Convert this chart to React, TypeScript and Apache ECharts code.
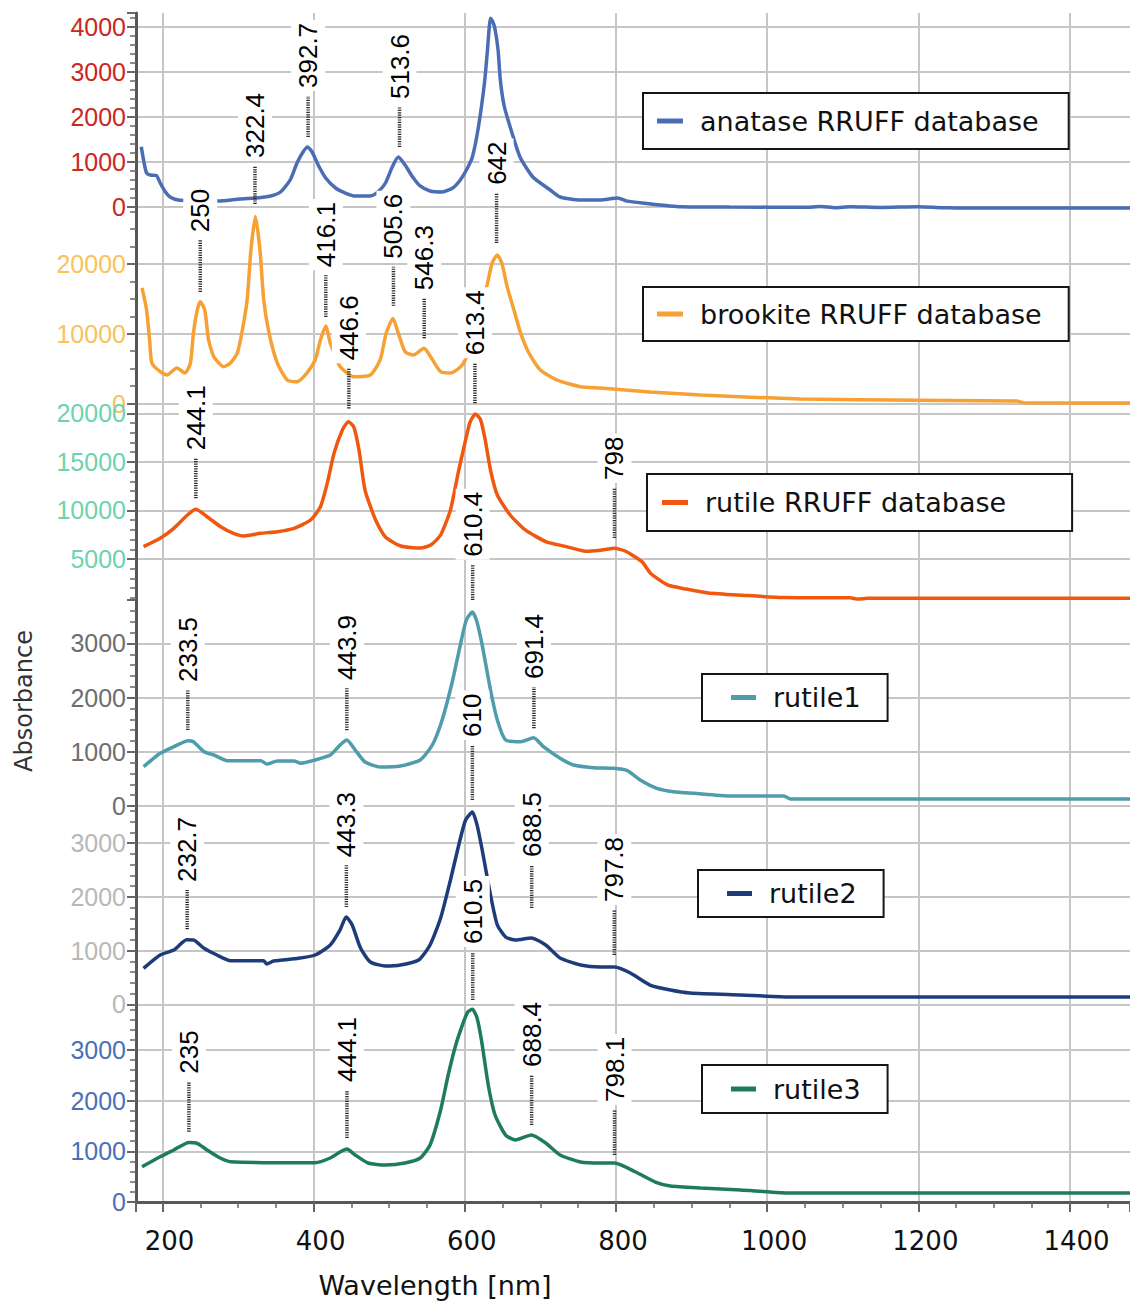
import React, { useEffect, useRef } from 'react';
import * as echarts from 'echarts';

// ---------- data ----------
const X_MIN = 165;
const X_MAX = 1480;
const xTickLabels = [200, 400, 600, 800, 1000, 1200, 1400];

const seriesNames = [
  'anatase RRUFF database',
  'brookite RRUFF database',
  'rutile RRUFF database',
  'rutile1',
  'rutile2',
  'rutile3',
];

const anatase: number[][] = [
  [172, 1340], [175, 1044], [179, 755], [184, 711], [192, 700], [197, 533], [204, 333], [210, 222],
  [221, 155], [240, 140], [260, 133], [280, 140], [303, 180], [324, 200], [343, 244], [356, 333],
  [369, 600], [378, 978], [386, 1222], [392, 1333], [398, 1222], [406, 933], [416, 644], [429, 422],
  [442, 311], [455, 244], [475, 244], [486, 350], [495, 533], [504, 889], [512, 1111], [521, 933],
  [531, 667], [541, 467], [554, 355], [570, 333], [584, 422], [594, 600], [603, 850], [610, 1111],
  [618, 1778], [626, 2756], [630, 3489], [634, 4193], [637, 4120], [640, 3950], [644, 3489],
  [647, 2822], [652, 2250], [660, 1778], [673, 1111], [690, 667], [713, 378], [726, 222], [753, 155],
  [779, 155], [802, 200], [815, 130], [835, 89], [886, 7], [950, 0], [1050, -5], [1071, 10],
  [1090, -15], [1110, 5], [1150, -10], [1200, 5], [1230, -15], [1250, -20], [1300, -20], [1400, -20],
  [1480, -20],
];

const brookite: number[][] = [
  [173, 16560], [179, 13400], [183, 9100], [186, 5800], [197, 4560], [206, 4090], [219, 5090],
  [230, 4370], [237, 5800], [241, 10100], [246, 13400], [250, 14600], [256, 13400], [261, 9100],
  [268, 6700], [281, 5280], [290, 5800], [299, 7240], [305, 10100], [312, 14840], [317, 22000],
  [323, 26800], [329, 22000], [334, 14840], [341, 10100], [352, 5800], [365, 3370], [378, 3130],
  [391, 4370], [402, 6240], [409, 9100], [416, 11110], [422, 8670], [428, 7000], [435, 5280],
  [453, 3840], [475, 4090], [488, 6240], [496, 10100], [505, 12200], [512, 10100], [521, 7430],
  [532, 6950], [546, 7910], [556, 6480], [568, 4560], [581, 4370], [592, 5040], [598, 5760],
  [606, 7500], [614, 10500], [622, 14000], [630, 17230], [636, 20100], [643, 21290], [649, 20100],
  [656, 16750], [665, 13400], [674, 10060], [685, 7200], [700, 4800], [722, 3370], [753, 2410],
  [779, 2220], [845, 1650], [912, 1220], [1044, 645], [1200, 450], [1330, 360], [1340, 100],
  [1480, 70],
];

const rutileRef: number[][] = [
  [175, 6270], [197, 7130], [215, 8160], [233, 9530], [244, 10120], [259, 9355], [277, 8325],
  [294, 7645], [308, 7370], [330, 7645], [352, 7810], [374, 8160], [396, 9015], [409, 10385],
  [418, 12790], [427, 15880], [438, 18280], [446, 19140], [453, 18620], [460, 16220], [468, 12100],
  [482, 9015], [495, 7265], [515, 6340], [541, 6130], [555, 6440], [568, 7470], [581, 10045],
  [592, 14160], [601, 17250], [607, 19100], [614, 19930], [621, 19310], [627, 17250], [634, 14160],
  [643, 11590], [660, 9530], [680, 7990], [707, 6800], [733, 6300], [760, 5800], [779, 5900],
  [798, 6100], [812, 5820], [834, 4750], [846, 3500], [869, 2300], [893, 1910], [922, 1510],
  [967, 1270], [1021, 1030], [1110, 1000], [1120, 880], [1133, 950], [1480, 950],
];

const rutile1: number[][] = [
  [175, 725], [197, 972], [215, 1094], [234, 1205], [241, 1186], [255, 1002], [268, 941], [286, 836],
  [330, 836], [338, 775], [352, 830], [374, 830], [383, 788], [402, 849], [422, 941], [435, 1125],
  [444, 1218], [455, 1033], [468, 812], [488, 720], [515, 738], [541, 849], [557, 1125], [570, 1587],
  [584, 2325], [594, 2970], [602, 3432], [610, 3579], [616, 3400], [623, 2970], [634, 2140],
  [643, 1587], [654, 1218], [674, 1186], [691, 1260], [704, 1094], [726, 880], [744, 756],
  [770, 707], [797, 695], [815, 651], [832, 480], [854, 326], [876, 264], [903, 234], [951, 185],
  [1022, 185], [1031, 129], [1480, 129],
];

const rutile2: number[][] = [
  [175, 670], [197, 918], [215, 1011], [232, 1200], [241, 1197], [255, 1043], [272, 918], [290, 812],
  [334, 812], [338, 750], [347, 806], [380, 856], [402, 918], [422, 1104], [435, 1384], [443, 1627],
  [451, 1477], [462, 1048], [475, 787], [495, 713], [515, 732], [539, 825], [554, 1104], [568, 1607],
  [581, 2315], [592, 2967], [601, 3432], [610, 3581], [616, 3350], [623, 2873], [634, 2035],
  [643, 1477], [654, 1253], [667, 1197], [688, 1235], [707, 1104], [726, 862], [753, 732],
  [779, 694], [798, 694], [819, 583], [845, 359], [872, 266], [898, 210], [965, 173], [1031, 136],
  [1480, 136],
];

const rutile3: number[][] = [
  [173, 696], [197, 893], [215, 1026], [235, 1175], [246, 1158], [259, 1026], [277, 862], [290, 795],
  [383, 775], [402, 775], [422, 868], [435, 986], [444, 1045], [455, 927], [472, 769], [495, 730],
  [521, 769], [541, 868], [554, 1124], [568, 1815], [578, 2505], [588, 3097], [597, 3500],
  [604, 3750], [610, 3800], [616, 3640], [622, 3195], [631, 2308], [640, 1716], [654, 1321],
  [667, 1223], [688, 1321], [707, 1164], [726, 927], [753, 789], [779, 769], [798, 769], [826, 592],
  [852, 394], [872, 316], [912, 276], [965, 237], [1031, 178], [1480, 178],
];

// y tick labels of each panel
const anataseTicks = [0, 1000, 2000, 3000, 4000];
const brookiteTicks = [0, 10000, 20000];
const rutileRefTicks = [5000, 10000, 15000, 20000];
const rutile1Ticks = [0, 1000, 2000, 3000];
const rutile2Ticks = [0, 1000, 2000, 3000];
const rutile3Ticks = [0, 1000, 2000, 3000];

// peak markers: [wavelength, marker bottom, marker top] in the panel's own units
const anatasePeaks = [[392.7, 1556, 2467], [513.6, 1333, 2222]];
const brookitePeaks = [
  [250, 16000, 23400], [322.4, 28600, 34050], [416.1, 12400, 18400],
  [505.6, 14000, 19600], [546.3, 9350, 15100], [642, 23000, 30200],
];
const rutileRefPeaks = [[244.1, 11250, 15370], [446.6, 20500, 24630], [613.4, 21030, 25150], [798, 7160, 12310]];
const rutile1Peaks = [[233.5, 1402, 2140], [443.9, 1400, 2177], [610.4, 3800, 4450], [691.4, 1434, 2196]];
const rutile2Peaks = [[232.7, 1397, 2128], [443.3, 1810, 2590], [610, 3805, 4829], [688.5, 1793, 2594], [797.8, 918, 1756]];
const rutile3Peaks = [[235, 1387, 2373], [444.1, 1262, 2209], [610.5, 3984, 4931], [688.4, 1519, 2505], [798.1, 927, 1815]];

// ---------- layout / style ----------
const panels = [
  { data: anatase, ticks: anataseTicks, peaks: anatasePeaks, top: 13, height: 194, min: 0, max: 4311, split: 5, minor: 5, color: '#4A6DB5', labelColor: '#C8281E', showMinLine: true },
  { data: brookite, ticks: brookiteTicks, peaks: brookitePeaks, top: 207, height: 196.5, min: 0, max: 28172, split: 3, minor: 4, color: '#F7A033', labelColor: '#F9C25A', showMinLine: true },
  { data: rutileRef, ticks: rutileRefTicks, peaks: rutileRefPeaks, top: 403.5, height: 196.5, min: 779, max: 21010, split: 4, minor: 5, color: '#F0580F', labelColor: '#6DD3AE', showMinLine: false },
  { data: rutile1, ticks: rutile1Ticks, peaks: rutile1Peaks, top: 600, height: 206, min: 0, max: 3801, split: 4, minor: 5, color: '#4F9CAA', labelColor: '#6E6E6E', showMinLine: true },
  { data: rutile2, ticks: rutile2Ticks, peaks: rutile2Peaks, top: 806, height: 198.3, min: 0, max: 3693, split: 4, minor: 5, color: '#1F3C7A', labelColor: '#B8B8B8', showMinLine: true },
  { data: rutile3, ticks: rutile3Ticks, peaks: rutile3Peaks, top: 1004.3, height: 197.7, min: 0, max: 3899, split: 4, minor: 5, color: '#1E7B5F', labelColor: '#4A70B8', showMinLine: true },
];

const legendBoxes = [
  { left: 643, top: 93, padding: [14, 30, 14, 14], iw: 26, lh: 28 },
  { left: 643, top: 287, padding: [13, 27, 13, 14], iw: 26, lh: 28 },
  { left: 647, top: 474, padding: [14.5, 66, 14.5, 15], iw: 26, lh: 28 },
  { left: 702, top: 674, padding: [10, 27, 10, 29], iw: 25, lh: 27 },
  { left: 698, top: 870, padding: [10, 27, 10, 29], iw: 25, lh: 27 },
  { left: 702, top: 1065, padding: [10.5, 27, 10.5, 29], iw: 25, lh: 27 },
];

const GRID_COLOR = '#c6c6c6';
const AXIS_COLOR = '#585858';
const TICK_COLOR = '#666';

function buildOption() {
  const grid = panels.map((p) => ({
    left: 136, right: 0, top: p.top, height: p.height, containLabel: false, outerBoundsMode: 'none',
  }));
  const last = panels.length - 1;
  const xAxis = panels.map((_, i) => ({
    gridIndex: i, type: 'value', min: X_MIN, max: X_MAX, splitNumber: 7,
    axisLine: { show: i === last, onZero: false, lineStyle: { color: AXIS_COLOR, width: 3 } },
    axisTick: { show: i === last, length: 10, lineStyle: { color: TICK_COLOR, width: 2 } },
    minorTick: { show: i === last, splitNumber: 4, length: 6, lineStyle: { color: TICK_COLOR, width: 1.5 } },
    axisLabel: {
      show: i === last, margin: 26, color: '#111', fontSize: 26, fontFamily: 'DejaVu Sans',
      padding: [0, 0, 0, 14],
      formatter: (v: number) => (xTickLabels.includes(v) ? String(v) : ''),
    },
    splitLine: { show: true, showMinLine: false, showMaxLine: false, lineStyle: { color: GRID_COLOR, width: 2 } },
  }));
  const yAxis = panels.map((p, i) => ({
    gridIndex: i, type: 'value', min: p.min, max: p.max, splitNumber: p.split,
    axisLine: { show: true, lineStyle: { color: AXIS_COLOR, width: 3 } },
    axisTick: { show: true, length: 9, lineStyle: { color: TICK_COLOR, width: 2 } },
    minorTick: { show: true, splitNumber: p.minor, length: 6, lineStyle: { color: TICK_COLOR, width: 1.5 } },
    axisLabel: {
      color: p.labelColor, fontSize: 25, fontFamily: '"Liberation Sans", Arial, sans-serif', margin: 10,
      formatter: (v: number) => (p.ticks.includes(v) ? String(v) : ''),
    },
    splitLine: { show: true, showMinLine: p.showMinLine, showMaxLine: false, lineStyle: { color: GRID_COLOR, width: 2 } },
  }));

  const lines = panels.map((p, i) => ({
    type: 'line', name: seriesNames[i], xAxisIndex: i, yAxisIndex: i, data: p.data,
    showSymbol: false, symbol: 'none', clip: false, z: 3, color: p.color,
    smooth: 0.2,
    lineStyle: { color: p.color, width: 3.5 },
  }));

  const peaks = panels.map((p, i) => ({
    type: 'custom', name: 'peaks' + i, xAxisIndex: i, yAxisIndex: i, data: p.peaks, z: 10, clip: false, silent: true,
    encode: { x: 0, y: [1, 2] },
    renderItem: (_params: any, api: any) => {
      const x = api.value(0);
      const p0 = api.coord([x, api.value(1)]);
      const p1 = api.coord([x, api.value(2)]);
      return {
        type: 'group',
        children: [
          {
            type: 'line',
            shape: { x1: p0[0], y1: p0[1], x2: p1[0], y2: p1[1] },
            style: { stroke: '#2a2a2a', lineWidth: 3.5, lineDash: [1.2, 1.2] },
          },
          {
            type: 'text', x: p1[0], y: p1[1] - 5, rotation: Math.PI / 2,
            style: {
              text: String(x), fill: '#000', font: '26px "Liberation Sans", Arial, sans-serif',
              align: 'left', verticalAlign: 'middle', backgroundColor: '#fff', padding: [4, 3, 4, 3],
            },
          },
        ],
      };
    },
  }));

  const legend = legendBoxes.map((b, i) => ({
    data: [{ name: seriesNames[i], icon: 'rect' }],
    left: b.left, top: b.top, padding: b.padding, orient: 'horizontal',
    itemWidth: b.iw, itemHeight: 5, selectedMode: false,
    backgroundColor: '#fff', borderColor: '#161616', borderWidth: 2, borderRadius: 0,
    textStyle: { color: '#111', fontSize: 27, fontFamily: 'DejaVu Sans', lineHeight: b.lh, padding: [0, 0, 0, 12] },
  }));

  return {
    animation: false,
    backgroundColor: '#fff',
    grid, xAxis, yAxis, legend,
    series: [...lines, ...peaks],
    graphic: [
      {
        type: 'text', x: 24, y: 701, rotation: Math.PI / 2,
        style: { text: 'Absorbance', font: '24px "DejaVu Sans"', fill: '#333', align: 'center', verticalAlign: 'middle' },
      },
      {
        type: 'text', x: 435, y: 1285,
        style: { text: 'Wavelength [nm]', font: '27px "DejaVu Sans"', fill: '#111', align: 'center', verticalAlign: 'middle' },
      },
    ],
  };
}

export default function App() {
  const ref = useRef<HTMLDivElement>(null);
  useEffect(() => {
    document.body.style.margin = '0';
    if (!ref.current) return;
    const chart = echarts.init(ref.current, undefined, { renderer: 'svg' });
    chart.setOption(buildOption() as any);
    return () => chart.dispose();
  }, []);
  return <div ref={ref} style={{ width: 1130, height: 1301 }} />;
}
